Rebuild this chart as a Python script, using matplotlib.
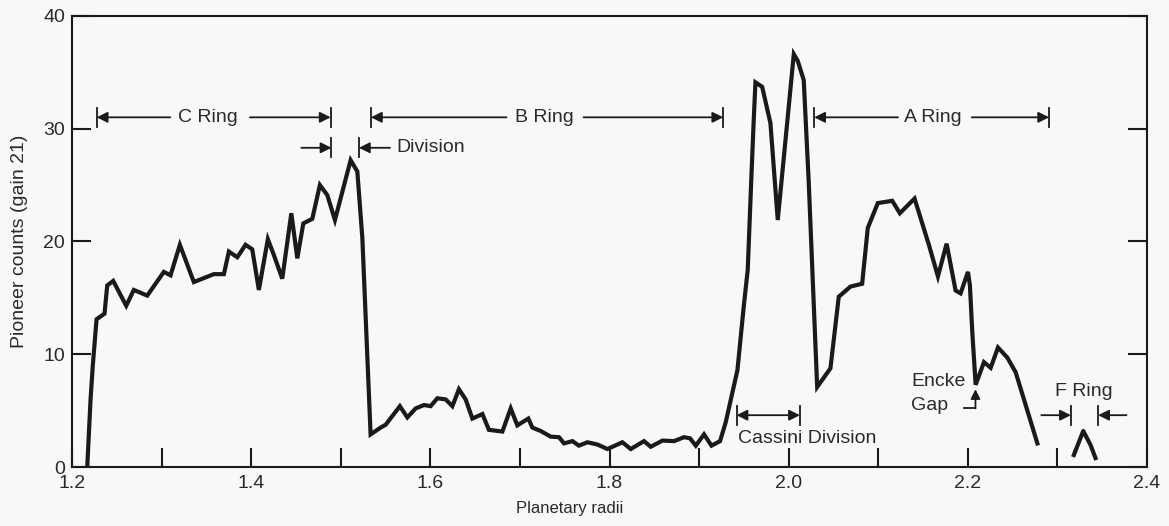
import matplotlib.pyplot as plt

plt.rcParams["font.family"] = ["Liberation Sans", "DejaVu Sans"]

ink = "#1a1a1a"
txt = "#2a2a2a"

# Pioneer counts across the rings
radius = [1.217, 1.2207, 1.2232, 1.2274, 1.2363, 1.2393, 1.2460, 1.2605, 1.2690, 1.2840,
          1.3025, 1.3100, 1.3204, 1.3360, 1.3583, 1.3695, 1.3751, 1.3845, 1.3937, 1.4012,
          1.4086, 1.4186, 1.4253, 1.4347, 1.4448, 1.4515, 1.4582, 1.4682, 1.4767, 1.4850,
          1.4935, 1.5110, 1.5185, 1.5241, 1.5333, 1.5445, 1.5501, 1.5660, 1.5743, 1.5836,
          1.5929, 1.6003, 1.6078, 1.6171, 1.6246, 1.6319, 1.6394, 1.6469, 1.6581, 1.6654,
          1.6804, 1.6897, 1.6971, 1.7094, 1.7139, 1.7232, 1.7343, 1.7436, 1.7492, 1.7586,
          1.7659, 1.7753, 1.7865, 1.7977, 1.8144, 1.8237, 1.8385, 1.8460, 1.8591, 1.8720,
          1.8832, 1.8899, 1.8963, 1.9055, 1.9138, 1.9234, 1.9298, 1.9428, 1.9498, 1.9543,
          1.9581, 1.9610, 1.9629, 1.9704, 1.9796, 1.9878, 1.9983, 2.0057, 2.0101, 2.0168,
          2.0224, 2.0318, 2.0466, 2.0559, 2.0690, 2.0820, 2.0883, 2.0995, 2.1156, 2.1241,
          2.1405, 2.1565, 2.1666, 2.1763, 2.1863, 2.1919, 2.2001, 2.2023, 2.2050, 2.2087,
          2.2180, 2.2255, 2.2336, 2.2441, 2.2534, 2.2776]
counts = [0.0, 6.0, 9.0, 13.1, 13.6, 16.1, 16.5, 14.3, 15.7, 15.2,
          17.3, 17.0, 19.7, 16.4, 17.1, 17.1, 19.1, 18.6, 19.7, 19.3,
          15.7, 20.2, 18.8, 16.7, 22.5, 18.5, 21.6, 22.0, 25.0, 24.1,
          21.9, 27.2, 26.2, 20.3, 2.9, 3.5, 3.75, 5.4, 4.4, 5.2,
          5.5, 5.4, 6.1, 6.0, 5.4, 6.9, 6.0, 4.3, 4.7, 3.3,
          3.15, 5.2, 3.7, 4.3, 3.5, 3.2, 2.7, 2.65, 2.1, 2.3,
          1.9, 2.2, 2.0, 1.6, 2.2, 1.6, 2.3, 1.8, 2.35, 2.3,
          2.65, 2.55, 1.9, 2.9, 1.9, 2.3, 4.0, 8.6, 14.2, 17.5,
          25.2, 30.8, 34.1, 33.7, 30.5, 21.9, 30.5, 36.6, 36.0, 34.3,
          25.2, 7.1, 8.75, 15.1, 16.0, 16.25, 21.2, 23.4, 23.6, 22.5,
          23.8, 19.7, 16.9, 19.8, 15.65, 15.4, 17.3, 16.1, 11.9, 7.3,
          9.3, 8.8, 10.6, 9.7, 8.4, 2.1]

# F ring, separate short trace
f_radius = [2.3183, 2.3288, 2.3370, 2.3425]
f_counts = [1.07, 3.2, 1.95, 0.8]

x_ticks = [1.2, 1.4, 1.6, 1.8, 2.0, 2.2, 2.4]
x_minor = [1.3, 1.5, 1.7, 1.9, 2.1, 2.3]
y_ticks = [0, 10, 20, 30, 40]

fig = plt.figure(figsize=(11.69, 5.26), dpi=100, facecolor="#f8f8f8")
ax = fig.add_axes([0.0616, 0.112, 0.9196, 0.858])
ax.set_facecolor("#f8f8f8")

ax.plot(radius, counts, color=ink, lw=3, solid_joinstyle="miter")
ax.plot(f_radius, f_counts, color=ink, lw=3)

ax.set_xlim(1.2, 2.4)
ax.set_ylim(0, 40)
ax.set_xticks(x_ticks)
ax.set_xticks(x_minor, minor=True)
ax.set_yticks(y_ticks)
ax.set_xticklabels(["1.2", "1.4", "1.6", "1.8", "2.0", "2.2", "2.4"])
ax.tick_params(which="both", direction="in", length=14, width=1.5, color=ink,
               labelsize=14, labelcolor=txt, right=True, top=False)
ax.tick_params(axis="x", pad=6)
ax.tick_params(axis="y", pad=5)
for s in ax.spines.values():
    s.set_linewidth(1.5)
    s.set_color(ink)

ax.set_xlabel("Planetary radii", fontsize=12, color=txt, labelpad=8)
ax.xaxis.set_label_coords(0.463, -0.075)
ax.set_ylabel("Pioneer counts (gain 21)", fontsize=14, color=txt, labelpad=10)
ax.yaxis.set_label_coords(-0.041, 0.5)


def arrow(x0, x1, y):
    # line from x0 ending in a filled head at x1
    ax.annotate("", xy=(x1, y), xytext=(x0, y),
                arrowprops=dict(arrowstyle="-|>", color=ink, lw=1.3,
                                mutation_scale=16, shrinkA=0, shrinkB=0))


def bar(x, y):
    ax.plot([x, x], [y - 0.85, y + 0.85], color=ink, lw=1.3)


ring_y = 31.0
fs = 14
# C ring
ax.text(1.352, ring_y, "C Ring", ha="center", va="center", fontsize=fs, color=txt)
arrow(1.3097, 1.2276, ring_y); bar(1.2276, ring_y)
arrow(1.3987, 1.4887, ring_y); bar(1.4887, ring_y)
# B ring
ax.text(1.727, ring_y, "B Ring", ha="center", va="center", fontsize=fs, color=txt)
arrow(1.685, 1.5337, ring_y); bar(1.5337, ring_y)
arrow(1.771, 1.9269, ring_y); bar(1.9269, ring_y)
# A ring
ax.text(2.161, ring_y, "A Ring", ha="center", va="center", fontsize=fs, color=txt)
arrow(2.122, 2.0285, ring_y); bar(2.0285, ring_y)
arrow(2.2044, 2.2907, ring_y); bar(2.2907, ring_y)

# Division
div_y = 28.3
arrow(1.456, 1.4896, div_y); bar(1.4896, div_y)
arrow(1.555, 1.5203, div_y); bar(1.5203, div_y)
ax.text(1.5624, div_y, "Division", ha="left", va="center", fontsize=fs, color=txt)

# Cassini division
cas_y = 4.6
ax.annotate("", xy=(2.0125, cas_y), xytext=(1.9418, cas_y),
            arrowprops=dict(arrowstyle="<|-|>", color=ink, lw=1.3,
                            mutation_scale=16, shrinkA=0, shrinkB=0))
bar(1.9418, cas_y); bar(2.0125, cas_y)
ax.text(1.9436, 2.55, "Cassini Division", ha="left", va="center", fontsize=fs, color=txt)

# Encke gap
ax.text(2.137, 7.6, "Encke", ha="left", va="center", fontsize=fs, color=txt)
ax.text(2.137, 5.5, "Gap", ha="left", va="center", fontsize=fs, color=txt)
ax.plot([2.1954, 2.2085], [5.2, 5.2], color=ink, lw=1.3)
ax.annotate("", xy=(2.2085, 6.9), xytext=(2.2085, 5.2),
            arrowprops=dict(arrowstyle="-|>", color=ink, lw=1.3,
                            mutation_scale=14, shrinkA=0, shrinkB=0))

# F ring
f_y = 4.6
ax.text(2.329, 6.7, "F Ring", ha="center", va="center", fontsize=fs, color=txt)
arrow(2.282, 2.315, f_y); bar(2.315, f_y)
arrow(2.377, 2.3455, f_y); bar(2.3455, f_y)

fig.savefig("out.png", dpi=100, facecolor=fig.get_facecolor())
